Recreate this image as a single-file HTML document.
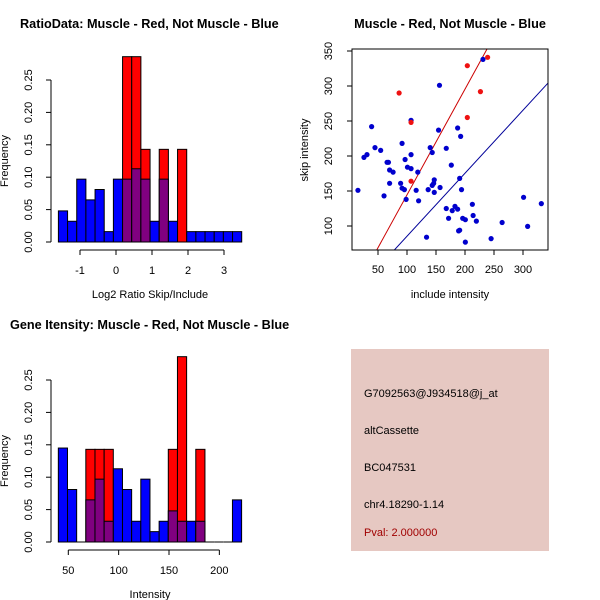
<!DOCTYPE html>
<html><head><meta charset="utf-8"><style>
body{margin:0;background:#fff}
svg{display:block;font-family:"Liberation Sans",sans-serif}
</style></head><body>
<svg id="c" width="600" height="600" viewBox="0 0 600 600">
<rect width="600" height="600" fill="#fff"/>
<text x="20" y="28" font-size="12.7" font-weight="bold">RatioData: Muscle - Red, Not Muscle - Blue</text>
<text x="450" y="28" font-size="12.7" font-weight="bold" text-anchor="middle">Muscle - Red, Not Muscle - Blue</text>
<text x="10" y="329" font-size="12.7" font-weight="bold">Gene Itensity: Muscle - Red, Not Muscle - Blue</text>
<g id="p1"></g>
<g id="p2"></g>
<g id="p3"></g>
<g>
<rect x="351" y="349" width="198" height="202" fill="#e6c8c2"/>
<g font-size="11">
<text x="364" y="397">G7092563@J934518@j_at</text>
<text x="364" y="434">altCassette</text>
<text x="364" y="471">BC047531</text>
<text x="364" y="508">chr4.18290-1.14</text>
<text x="364" y="536" fill="#a00000">Pval: 2.000000</text>
</g></g>
</svg>
<script>
// Ratio histogram data
const ratioStart = -1.6;
const ratioBinWidth = 0.2546;
const ratioBlue = [0.048,0.032,0.097,0.065,0.081,0.016,0.097,0.097,0.113,0.097,0.032,0.097,0.032,0,0.016,0.016,0.016,0.016,0.016,0.016];
const ratioRed = [0,0,0,0,0,0,0,0.286,0.286,0.143,0,0.143,0,0.143,0,0,0,0,0,0];
const ratioTicks = [-1,0,1,2,3];
// Intensity histogram data
const intStart = 40.1;
const intBinWidth = 9.1;
const intBlue = [0.145,0.081,0,0.065,0.097,0.032,0.113,0.081,0.032,0.097,0.016,0.032,0.048,0.032,0.032,0.032,0,0,0,0.065];
const intRed = [0,0,0,0.143,0.143,0.143,0,0,0,0,0,0,0.143,0.286,0,0.143,0,0,0,0];
const intTicks = [50,100,150,200];
const freqTicks = [0,0.05,0.10,0.15,0.20,0.25];
const freqLabels = ["0.00","0.05","0.10","0.15","0.20","0.25"];
// Scatter data
const blueX = [15.4,25.8,31,39,44.8,54.6,60.4,65.6,68,70,70,76,91.5,89,91.5,95.5,96.7,98.5,100.8,107,107,107,115.8,118.6,120,133.7,136.5,140,143.5,143.5,146,147,147,154.4,156,157,167.7,167.7,171.7,176.4,178,182.7,187.3,187.3,192.5,190.8,194,189,190.8,196,200.6,200.6,212.7,214,219.6,231,245,264,301,308,331.6];
const blueY = [151,198,202,242,212,208,143,191,191,180,161,177,218,161,154,152,195,138,184,251,202,182,151,177,136,84,152,212,158,205,161,166,148,237,301,155,211,125,111,187,122,128,124,240,228,168,152,93,94,111,109,77,131,115,107,338,82,105,141,99.5,132];
const redX = [86.4,107,107,204,204,226.6,239];
const redY = [290,248,164,329,255,292,341];
const redLine = [-6.5,1.51];   // intercept, slope
const blueLine = [-4.6,0.9];
const scatterXTicks = [50,100,150,200,250,300];
const scatterYTicks = [100,150,200,250,300,350];

const NS="http://www.w3.org/2000/svg";
function mk(p,t,a){const e=document.createElementNS(NS,t);for(const k in a)e.setAttribute(k,a[k]);p.appendChild(e);return e;}

function hist(g,y0,xs,xoff,xscale,start,bw,blue,red,ticks,xlabel,tickMin,tickMax){
  const X=v=>xoff+(v-xs)*xscale;
  const Y=v=>y0-v*648;
  for(let i=0;i<blue.length;i++){
    const x1=X(start+i*bw),x2=X(start+(i+1)*bw);
    const b=blue[i],r=red[i];
    if(r>0){const e=mk(g,'rect',{x:x1,y:Y(r),width:x2-x1,height:Y(0)-Y(r),fill:'#ff0000',stroke:'#000','stroke-width':1});
      }
    if(b>0){
      if(b>r){const e=mk(g,'rect',{x:x1,y:Y(b),width:x2-x1,height:Y(0)-Y(b),fill:'#0000ff',stroke:'#000','stroke-width':1});
        }
      if(r>0){const m=Math.min(b,r);const e=mk(g,'rect',{x:x1,y:Y(m),width:x2-x1,height:Y(0)-Y(m),fill:'#800080',stroke:'#000','stroke-width':1});
        }
    }
    if(b===0&&r===0){mk(g,'line',{x1:x1,x2:x2,y1:y0,y2:y0,stroke:'#000'});}
  }
  mk(g,'line',{x1:51,x2:51,y1:Y(0),y2:Y(0.25),stroke:'#000'});
  freqTicks.forEach((v,i)=>{mk(g,'line',{x1:46,x2:51,y1:Y(v),y2:Y(v),stroke:'#000'});
    const t=mk(g,'text',{x:32,y:Y(v),'font-size':11,'text-anchor':'middle',transform:`rotate(-90 32 ${Y(v)})`});t.textContent=freqLabels[i];
    });
  const yl=mk(g,'text',{x:8,y:(Y(0)+Y(0.25))/2,'font-size':11,'text-anchor':'middle',transform:`rotate(-90 8 ${(Y(0)+Y(0.25))/2})`});yl.textContent='Frequency';
  
  const ay=y0+8;
  mk(g,'line',{x1:X(tickMin),x2:X(tickMax),y1:ay,y2:ay,stroke:'#000'});
  ticks.forEach(v=>{mk(g,'line',{x1:X(v),x2:X(v),y1:ay,y2:ay+5,stroke:'#000'});
    const t=mk(g,'text',{x:X(v),y:ay+24,'font-size':11,'text-anchor':'middle'});t.textContent=v;
    });
  const xl=mk(g,'text',{x:150,y:ay+48,'font-size':11,'text-anchor':'middle'});xl.textContent=xlabel;
  
}
hist(document.getElementById('p1'),242,0,116,36,ratioStart,ratioBinWidth,ratioBlue,ratioRed,ratioTicks,'Log2 Ratio Skip/Include',-1,3);
hist(document.getElementById('p3'),542,50,68.3,1.007,intStart,intBinWidth,intBlue,intRed,intTicks,'Intensity',50,200);

(function(){
  const g=document.getElementById('p2');
  const X=v=>378+(v-50)*0.58, Y=v=>226-(v-100)*0.7;
  const L=352,R=548,T=49,B=250;
  const defs=mk(g,'defs',{});const cp=mk(defs,'clipPath',{id:'sc'});mk(cp,'rect',{x:L,y:T,width:R-L,height:B-T});
  const lines=[[redLine,'#cc0000','red-fit-line'],[blueLine,'#000099','blue-fit-line']];
  const x0=(L-378)/0.58+50,x1=(R-378)/0.58+50;
  lines.forEach(([ab,c,n])=>{const e=mk(g,'line',{x1:X(x0),y1:Y(ab[0]+ab[1]*x0),x2:X(x1),y2:Y(ab[0]+ab[1]*x1),stroke:c,'stroke-width':1,'clip-path':'url(#sc)'});
    });
  blueX.forEach((v,i)=>{const e=mk(g,'circle',{cx:X(v),cy:Y(blueY[i]),r:2.6,fill:'#0000cd'});
    });
  redX.forEach((v,i)=>{const e=mk(g,'circle',{cx:X(v),cy:Y(redY[i]),r:2.6,fill:'#ee1111'});
    });
  mk(g,'rect',{x:L,y:T,width:R-L,height:B-T,fill:'none',stroke:'#000'});
  scatterXTicks.forEach(v=>{mk(g,'line',{x1:X(v),x2:X(v),y1:B,y2:B+5,stroke:'#000'});
    const t=mk(g,'text',{x:X(v),y:B+23,'font-size':11,'text-anchor':'middle'});t.textContent=v;
    });
  scatterYTicks.forEach(v=>{mk(g,'line',{x1:L-5,x2:L,y1:Y(v),y2:Y(v),stroke:'#000'});
    const t=mk(g,'text',{x:332,y:Y(v),'font-size':11,'text-anchor':'middle',transform:`rotate(-90 332 ${Y(v)})`});t.textContent=v;
    });
  const xl=mk(g,'text',{x:450,y:298,'font-size':11,'text-anchor':'middle'});xl.textContent='include intensity';
  
  const yl=mk(g,'text',{x:308,y:150,'font-size':11,'text-anchor':'middle',transform:'rotate(-90 308 150)'});yl.textContent='skip intensity';
  
})();
</script>
</body></html>
